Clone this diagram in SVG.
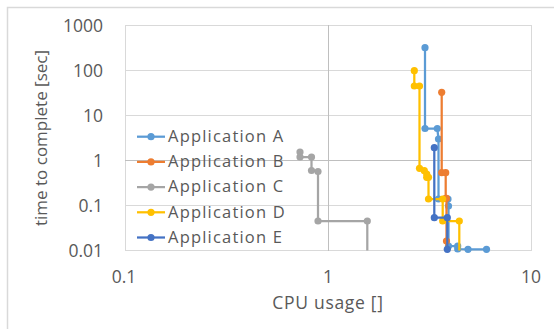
<svg xmlns="http://www.w3.org/2000/svg" width="554" height="329" viewBox="0 0 554 329">
<style>
.t{font-family:"Open Sans","DejaVu Sans",sans-serif;fill:#595959}
.tick{font-size:17.5px}
.leg{font-size:16.5px;letter-spacing:1.2px}
.grid{stroke:#d9d9d9;stroke-width:1;fill:none}
.axis{stroke:#bfbfbf;stroke-width:1;fill:none}
.s{fill:none;stroke-width:2.25;stroke-linejoin:round}
.a{stroke:#5B9BD5}.b{stroke:#ED7D31}.c{stroke:#A5A5A5}.d{stroke:#FFC000}.e{stroke:#4472C4}
.ma{marker-start:url(#mA);marker-mid:url(#mA);marker-end:url(#mA)}
.mb{marker-start:url(#mB);marker-mid:url(#mB);marker-end:url(#mB)}
.mc{marker-start:url(#mC);marker-mid:url(#mC);marker-end:url(#mC)}
.md{marker-start:url(#mD);marker-mid:url(#mD);marker-end:url(#mD)}
.me{marker-start:url(#mE);marker-mid:url(#mE);marker-end:url(#mE)}
</style>
<defs>
<marker id="mA" viewBox="-4 -4 8 8" markerWidth="8" markerHeight="8" markerUnits="userSpaceOnUse" overflow="visible"><circle r="3.6" fill="#5B9BD5"/></marker>
<marker id="mB" viewBox="-4 -4 8 8" markerWidth="8" markerHeight="8" markerUnits="userSpaceOnUse" overflow="visible"><circle r="3.6" fill="#ED7D31"/></marker>
<marker id="mC" viewBox="-4 -4 8 8" markerWidth="8" markerHeight="8" markerUnits="userSpaceOnUse" overflow="visible"><circle r="3.6" fill="#A5A5A5"/></marker>
<marker id="mD" viewBox="-4 -4 8 8" markerWidth="8" markerHeight="8" markerUnits="userSpaceOnUse" overflow="visible"><circle r="3.6" fill="#FFC000"/></marker>
<marker id="mE" viewBox="-4 -4 8 8" markerWidth="8" markerHeight="8" markerUnits="userSpaceOnUse" overflow="visible"><circle r="3.6" fill="#4472C4"/></marker>
</defs>
<rect x="0" y="0" width="554" height="329" fill="#ffffff"/>
<rect x="7.5" y="7.5" width="560" height="330" fill="none" stroke="#d9d9d9" stroke-width="1.5"/>
<g id="gridlines">
<path class="grid" d="M125 25.5H531.5M125 70.5H531.5M125 115.5H531.5M125 205.5H531.5M125 250.5H531.5M125.5 25V251M531.5 25V251"/>
<path class="axis" d="M125 160.5H531.5M328.5 25V251"/>
</g>
<g id="y-ticks" class="t tick" text-anchor="end">
<text x="103" y="31.5">1000</text>
<text x="103" y="76.5">100</text>
<text x="103" y="121.5">10</text>
<text x="103" y="166.5">1</text>
<text x="103" y="211.5">0.1</text>
<text x="103" y="256.5">0.01</text>
</g>
<g id="x-ticks" class="t tick" text-anchor="middle">
<text x="124" y="282.5">0.1</text>
<text x="328" y="282.5">1</text>
<text x="531" y="282.5">10</text>
</g>
<text id="x-title" class="t" x="328" y="308.5" font-size="17.5" letter-spacing="0.7" text-anchor="middle">CPU usage []</text>
<text id="y-title" class="t" font-size="17" text-anchor="middle" transform="translate(46.5 138) rotate(-90)">time to complete [sec]</text>
<g id="connectors">
<polyline id="seriesA" class="s a ma" points="425,47.7 425,128.5 437.3,128.5 438.5,139 438.5,199 448,199 448.5,206 448.5,246 457.7,246 457.7,249 468,249.3 486.5,249.3"/>
<polyline id="seriesB" class="s b mb" points="441.7,92.3 441.7,172.7 445.7,172.7 445.7,198.3 446.5,198.3 446.5,241"/>
<line class="s b" x1="446.5" y1="241" x2="446.5" y2="250"/>
<polyline id="seriesC" class="s c mc" points="300,152 300,157 311.5,157 311.5,170.5 318,171.5 318,221 367.3,221"/>
<line class="s c" x1="367.3" y1="221" x2="367.3" y2="250.5"/>
<polyline id="seriesD" class="s d md" points="414.3,70.7 414.3,86 419.5,86 419.5,168.3 424.3,170.7 426.7,174 426.7,177.3 428.5,177.3 428.5,199 442.7,199 442.7,221 459.3,221"/>
<line class="s d" x1="459.3" y1="221" x2="459.3" y2="250.5"/>
<polyline id="seriesE" class="s e me" points="434.3,147.7 434.3,217.7 447.3,217.7 447.3,249.3"/>
</g>
<g id="legend">
<g id="legend-A"><line class="s a" x1="137" y1="136.7" x2="165" y2="136.7"/><circle cx="151" cy="136.7" r="3.6" fill="#5B9BD5"/><text class="t leg" x="168" y="142">Application A</text></g>
<g id="legend-B"><line class="s b" x1="137" y1="161.9" x2="165" y2="161.9"/><circle cx="151" cy="161.9" r="3.6" fill="#ED7D31"/><text class="t leg" x="168" y="167.2">Application B</text></g>
<g id="legend-C"><line class="s c" x1="137" y1="187.1" x2="165" y2="187.1"/><circle cx="151" cy="187.1" r="3.6" fill="#A5A5A5"/><text class="t leg" x="168" y="192.4">Application C</text></g>
<g id="legend-D"><line class="s d" x1="137" y1="212.3" x2="165" y2="212.3"/><circle cx="151" cy="212.3" r="3.6" fill="#FFC000"/><text class="t leg" x="168" y="217.6">Application D</text></g>
<g id="legend-E"><line class="s e" x1="137" y1="237.5" x2="165" y2="237.5"/><circle cx="151" cy="237.5" r="3.6" fill="#4472C4"/><text class="t leg" x="168" y="242.8">Application E</text></g>
</g>
</svg>
